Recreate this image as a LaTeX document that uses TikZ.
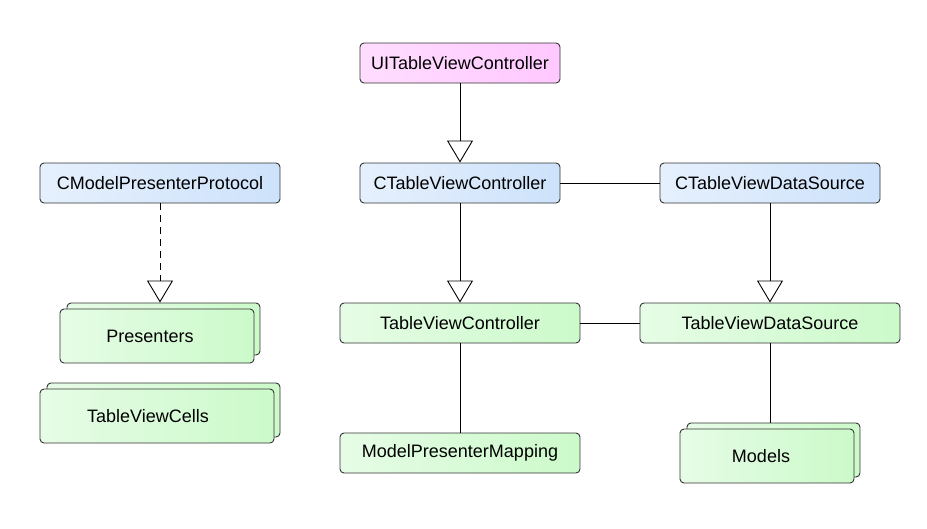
\documentclass[tikz,border=0pt]{standalone}
\usepackage{fontspec}
\setmainfont{Liberation Sans}
\usetikzlibrary{arrows.meta}
\definecolor{blueL}{HTML}{E6F0FD}
\definecolor{blueR}{HTML}{CDE2FB}
\definecolor{pinkL}{HTML}{FFDDFF}
\definecolor{pinkR}{HTML}{FFC8FF}
\definecolor{greenL}{HTML}{E6FCE6}
\definecolor{greenR}{HTML}{CCFACA}
\definecolor{edge}{HTML}{333333}
\tikzset{
  box/.style={rectangle, rounded corners=4pt, draw=edge, line width=0.9pt,
    inner sep=0pt, font=\fontsize{18}{21}\selectfont, text=black},
  bluebox/.style={box, left color=blueL, right color=blueR},
  pinkbox/.style={box, left color=pinkL, right color=pinkR},
  greenbox/.style={box, left color=greenL, right color=greenR},
  conn/.style={line width=0.9pt, draw=black},
  inherit/.style={conn, -{Triangle[open, width=26pt, length=22pt, fill=white, line width=0.9pt]}},
  realize/.style={inherit, dash pattern=on 7pt off 5pt}
}
\begin{document}
\begin{tikzpicture}[x=1pt,y=-1pt]
\useasboundingbox[fill=white] (0,0) rectangle (927,528);
% top row
\node[pinkbox, minimum width=200pt, minimum height=40pt] (ui) at (460,63) {UITableViewController};
\node[bluebox, minimum width=200pt, minimum height=40pt] (cvc) at (460,183) {CTableViewController};
\node[bluebox, minimum width=220pt, minimum height=40pt] (cds) at (770,183) {CTableViewDataSource};
\node[bluebox, minimum width=240pt, minimum height=40pt] (proto) at (160,183) {CModelPresenterProtocol};
% middle row
\node[greenbox, minimum width=240pt, minimum height=40pt] (tvc) at (460,323) {TableViewController};
\node[greenbox, minimum width=260pt, minimum height=40pt] (tds) at (770,323) {TableViewDataSource};
% stacked boxes
\node[greenbox, minimum width=193pt, minimum height=52pt] (presB) at (163.5,329) {};
\node[greenbox, minimum width=194pt, minimum height=54pt] (presF) at (157,336) {\hspace*{-14pt}Presenters};
\node[greenbox, minimum width=233pt, minimum height=54pt] (cellsB) at (163.5,410) {};
\node[greenbox, minimum width=234pt, minimum height=54pt] (cellsF) at (157,416) {\hspace*{-18pt}TableViewCells};
\node[greenbox, minimum width=240pt, minimum height=40pt] (mpm) at (460,453) {ModelPresenterMapping};
\node[greenbox, minimum width=173pt, minimum height=54pt] (modB) at (773.5,450) {};
\node[greenbox, minimum width=174pt, minimum height=54pt] (modF) at (767,456) {\hspace*{-12pt}Models};
% connectors
\draw[inherit] (ui.south) -- (cvc.north);
\draw[inherit] (cvc.south) -- (tvc.north);
\draw[inherit] (cds.south) -- (tds.north);
\draw[realize] (proto.south) -- (proto.south |- presB.north);
\draw[conn] (cvc.east) -- (cds.west);
\draw[conn] (tvc.east) -- (tds.west);
\draw[conn] (tvc.south) -- (mpm.north);
\draw[conn] (tds.south) -- (tds.south |- modB.north);
\end{tikzpicture}
\end{document}
